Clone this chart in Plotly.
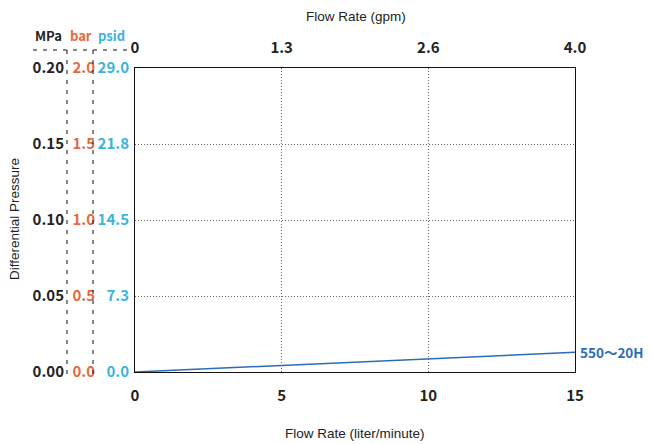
import plotly.graph_objects as go

flow_lpm = [0, 15]
dp_mpa = [0, 0.013]
series_name = "550～20H"

x_ticks = [0, 5, 10, 15]
gpm_labels = ["0", "1.3", "2.6", "4.0"]
mpa_ticks = [0, 0.05, 0.10, 0.15, 0.20]
mpa_labels = ["0.00", "0.05", "0.10", "0.15", "0.20"]
bar_labels = ["0.0", "0.5", "1.0", "1.5", "2.0"]
psid_labels = ["0.0", "7.3", "14.5", "21.8", "29.0"]

FONT = "Noto Sans CJK JP"
TFONT = "Liberation Sans"
DARK = "#222222"
ORANGE = "#E8683A"
CYAN = "#3BB4E0"
LINEBLUE = "#2B6CB8"

OFF = 8  # page body margin
W, H = 651 - OFF, 444 - OFF
PL, PR, PT, PB = 135, 575, 68, 372
L = 0
R = W - (PR - OFF)
T = PT - OFF
B = H - (PB - OFF)
pw = W - L - R
ph = H - T - B

def px(x):
    return ((x - OFF) - L) / pw

def py(y):
    return (PB - y) / ph

fig = go.Figure()
fig.add_trace(go.Scatter(x=flow_lpm, y=dp_mpa, mode="lines",
                         line=dict(color=LINEBLUE, width=1.5), showlegend=False,
                         hoverinfo="skip"))
fig.add_trace(go.Scatter(x=flow_lpm, y=dp_mpa, xaxis="x2", yaxis="y", mode="lines",
                         line=dict(width=0), opacity=0, showlegend=False, hoverinfo="skip"))
for ya in ["y2", "y3", "y4"]:
    fig.add_trace(go.Scatter(x=flow_lpm, y=dp_mpa, xaxis="x", yaxis=ya, mode="lines",
                             line=dict(width=0), opacity=0, showlegend=False, hoverinfo="skip"))

tickfont = dict(family=FONT, size=15, color=DARK, weight="bold")
dom0 = px(PL)
GRID = dict(showgrid=True, gridcolor="#666", griddash="1px,2px", gridwidth=1)

common_y = dict(overlaying="y", anchor="free", side="left", range=[0, 0.20],
                tickvals=mpa_ticks, showgrid=False, showline=False, ticks="",
                zeroline=False, automargin=False)

fig.update_layout(
    width=W, height=H,
    margin=dict(l=L, r=R, t=T, b=B, autoexpand=False),
    paper_bgcolor="white", plot_bgcolor="white",
    xaxis=dict(domain=[dom0, 1], range=[0, 15], tickvals=x_ticks,
               ticktext=[str(v) for v in x_ticks], tickfont=tickfont, **GRID,
               showline=True, linecolor="#111", linewidth=1.2, mirror=True,
               ticks="", ticklabelstandoff=10, zeroline=False, automargin=False),
    xaxis2=dict(overlaying="x", side="top", range=[0, 15], tickvals=x_ticks,
                ticktext=gpm_labels, tickfont=tickfont, showgrid=False,
                ticks="", ticklabelstandoff=11, zeroline=False, anchor="y",
                automargin=False),
    yaxis=dict(domain=[0, 1], range=[0, 0.20], tickvals=mpa_ticks, showticklabels=False,
               **GRID, showline=True, linecolor="#111", linewidth=1.2, mirror=True,
               ticks="", zeroline=False, automargin=False),
    yaxis2=dict(common_y, position=px(64), ticktext=mpa_labels, tickfont=tickfont),
    yaxis3=dict(common_y, position=px(95), ticktext=bar_labels,
                tickfont=dict(family=FONT, size=15, color=ORANGE, weight="bold")),
    yaxis4=dict(common_y, position=px(129), ticktext=psid_labels,
                tickfont=dict(family=FONT, size=15, color=CYAN, weight="bold")),
)

dash = dict(color="#111", width=1, dash="4px,6px")
fig.add_shape(type="line", xref="paper", yref="paper", x0=px(33), x1=px(128),
              y0=py(50), y1=py(50), line=dash)
for xv in [67, 93]:
    fig.add_shape(type="line", xref="paper", yref="paper", x0=px(xv), x1=px(xv),
                  y0=py(50), y1=py(378), line=dash)

hdr = [("MPa", 48, DARK), ("bar", 81, ORANGE), ("psid", 111, CYAN)]
for txt, xv, col in hdr:
    fig.add_annotation(text=txt, xref="paper", yref="paper", x=px(xv), y=py(36),
                       xanchor="center", yanchor="middle", showarrow=False,
                       font=dict(family=FONT, size=13, color=col, weight="bold"))

fig.add_annotation(text="Flow Rate (gpm)", xref="paper", yref="paper", x=px(356), y=py(16),
                   xanchor="center", yanchor="middle", showarrow=False,
                   font=dict(family=TFONT, size=13.5, color=DARK))
fig.add_annotation(text="Flow Rate (liter/minute)", xref="paper", yref="paper", x=px(355),
                   y=py(433), xanchor="center", yanchor="middle", showarrow=False,
                   font=dict(family=TFONT, size=13.5, color=DARK))
fig.add_annotation(text="Differential Pressure", xref="paper", yref="paper", x=px(14),
                   y=py(219), xanchor="center", yanchor="middle", textangle=-90,
                   showarrow=False, font=dict(family=TFONT, size=13.5, color=DARK))

fig.add_annotation(text=series_name, x=flow_lpm[-1], y=dp_mpa[-1], xref="x", yref="y",
                   xanchor="left", yanchor="middle", xshift=3, showarrow=False,
                   font=dict(family=FONT, size=13.5, color=LINEBLUE, weight="bold"))

fig.write_html("out.html")
